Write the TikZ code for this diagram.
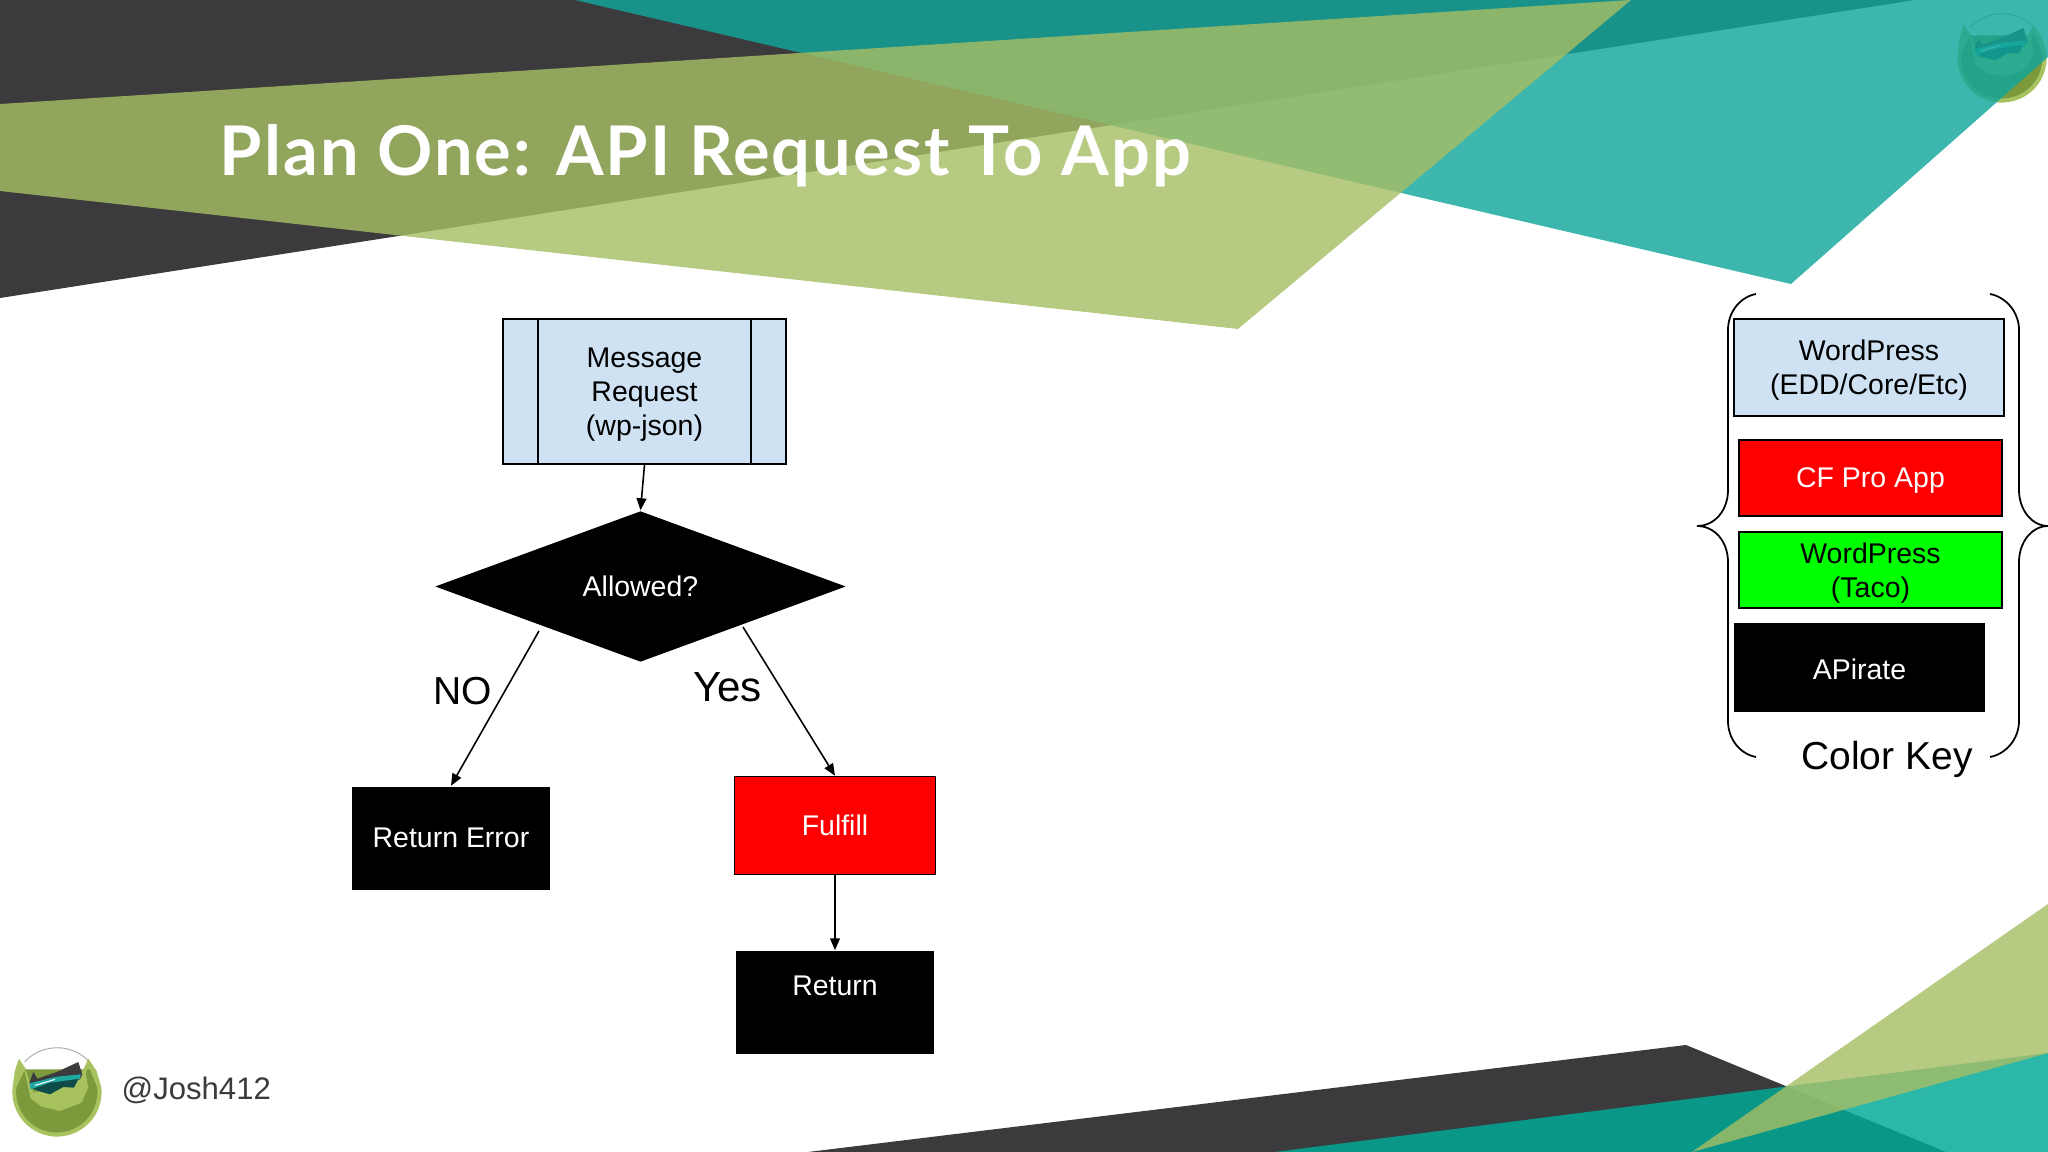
\documentclass[tikz,border=0pt]{standalone}
\usepackage{fontspec}
\setmainfont{Liberation Sans}
\newfontfamily\titlefont{Lato}[LetterSpace=3]
\usetikzlibrary{arrows.meta,shapes.geometric}
\definecolor{slate}{HTML}{3B3A3C}
\definecolor{olive}{HTML}{A5BE65}
\definecolor{teal1}{HTML}{12A69C}
\definecolor{teal2}{HTML}{00AA98}
\definecolor{paleblue}{HTML}{CFE2F3}
\definecolor{moss}{HTML}{7C9A3C}
\definecolor{leaf}{HTML}{A8C25F}
\definecolor{deepteal}{HTML}{0E4C4A}
\definecolor{river}{HTML}{1FA8A0}
\newcommand{\toppad}{\rule{0pt}{7.6pt}}
\newcommand{\onepad}{\rule{0pt}{7pt}}
\tikzset{
    boxtext/.style={font=\fontsize{8.1}{9.67}\selectfont,align=center,inner sep=0pt,line width=0.45pt},
    bluebox/.style={boxtext,draw=black,fill=paleblue,text=black},
    redbox/.style={boxtext,draw=black,fill=red,text=white},
    greenbox/.style={boxtext,draw=black,fill=green,text=black},
    blackbox/.style={boxtext,fill=black,text=white},
    biglabel/.style={font=\fontsize{11.1}{13}\selectfont,inner sep=0pt},
    flow/.style={-{Triangle[length=3.4pt,width=2.8pt]},line width=0.45pt},
    keybrace/.style={line width=0.5pt},
    pics/logo/.style={code={
        \begin{scope}[x=0.0333mm,y=-0.0333mm,shift={(-171,-218)}]
            \draw[gray!70,line width=0.25pt] (171,218) ++(-137:133) arc[start angle=-137,end angle=-45,radius=133];
            \fill[leaf] (57,118)--(45,152)--(37.7,204) arc[start angle=186,end angle=-6,radius=134]--(290,155)--(265,118)--(250,160)--(85,160)--cycle;
            \fill[moss] (49,205) arc[start angle=186,end angle=-6,radius=122]--(270,150)--(75,150)--cycle;
            \fill[leaf] (60,125)--(75,160)--(85,205)--(92,238)--(125,262)--(180,275)--(245,250)--(265,205)--(258,165)--(265,120)--(250,150)--(220,190)--(100,220)--(80,160)--cycle;
            \fill[slate] (88,190)--(100,158)--(112,178)--(170,158)--(235,128)--(247,165)--(240,180)--(100,205)--cycle;
            \fill[deepteal] (92,205)--(240,170)--(222,205)--(190,203)--(150,225)--(115,215)--cycle;
            \fill[river] (88,192)--(170,172)--(242,165)--(240,178)--(150,190)--(92,210)--cycle;
            \draw[white,line width=0.3pt] (105,198)--(165,180);
        \end{scope}
    }}
}
\begin{document}
\begin{tikzpicture}[x=1cm,y=-1cm]
    \useasboundingbox (0,0) rectangle (20.48,11.52);
    % logos (the upper one lies under the teal)
    \pic at (20.02,0.58) {logo};
    \pic at (0.57,10.92) {logo};
    % top shapes
    \fill[slate] (0,0)--(19.15,0)--(0,2.98)--cycle;
    \fill[teal1,fill opacity=.82] (5.75,0)--(17.91,2.84)--(20.48,0.57)--(20.48,0)--cycle;
    \fill[olive,fill opacity=.81] (0,1.04)--(16.31,0)--(12.38,3.29)--(0,1.91)--cycle;
    % bottom shapes
    \fill[slate] (8.08,11.52)--(16.86,10.45)--(19.46,11.52)--cycle;
    \fill[teal2,fill opacity=.83] (12.75,11.52)--(20.48,10.53)--(20.48,11.52)--cycle;
    \fill[olive,fill opacity=.81] (16.92,11.52)--(20.48,9.04)--(20.48,10.53)--cycle;
    % title
    \node[anchor=base west,inner sep=0pt,text=white,font=\titlefont\bfseries\fontsize{19.5}{22}\selectfont] (title) at (2.19,1.76) {Plan One: API Request To App};
    % flow
    \node[bluebox,minimum width=2.83cm,minimum height=1.45cm] (msg) at (6.445,3.915) {\toppad Message\\Request\\(wp-json)};
    \draw[line width=0.45pt] ([xshift=.36cm]msg.north west)--([xshift=.36cm]msg.south west);
    \draw[line width=0.45pt] ([xshift=-.36cm]msg.north east)--([xshift=-.36cm]msg.south east);
    \node[boxtext,shape=diamond,aspect=2.72,fill=black,text=white,minimum width=4.11cm,minimum height=1.51cm] (allowed) at (6.405,5.865) {Allowed?};
    \node[blackbox,minimum width=1.975cm,minimum height=1.03cm] (error) at (4.51,8.38) {Return Error};
    \node[redbox,minimum width=2.01cm,minimum height=0.98cm] (fulfill) at (8.35,8.255) {Fulfill};
    \node[blackbox,minimum width=1.98cm,minimum height=1.03cm] (return) at (8.35,10.025) {Return\\~};
    \coordinate (nostart) at (5.39,6.31);
    \coordinate (yesstart) at (7.43,6.27);
    \draw[flow] (msg.south)--(allowed.north);
    \draw[flow] (nostart)--(error.north);
    \draw[flow] (yesstart)--(fulfill.north);
    \draw[flow] (fulfill.south)--(return.north);
    \node[biglabel] (no) at (4.63,6.91) {NO};
    \node[biglabel,font=\fontsize{12}{14}\selectfont] (yes) at (7.275,6.875) {Yes};
    % color key
    \node[bluebox,minimum width=2.70cm,minimum height=0.97cm] (keywp) at (18.69,3.675) {\toppad WordPress\\(EDD/Core/Etc)};
    \node[redbox,minimum width=2.63cm,minimum height=0.76cm] (keycf) at (18.705,4.78) {\onepad CF Pro App};
    \node[greenbox,minimum width=2.63cm,minimum height=0.76cm] (keytaco) at (18.705,5.70) {\toppad WordPress\\(Taco)};
    \node[blackbox,minimum width=2.51cm,minimum height=0.89cm] (keyapi) at (18.595,6.675) {\onepad APirate};
    \node[biglabel,anchor=base] (keytitle) at (18.87,7.70) {Color Key};
    \draw[keybrace] (17.56,2.94) .. controls (17.40,2.97) and (17.28,3.12) .. (17.28,3.30)--(17.28,4.90)
        .. controls (17.28,5.10) and (17.15,5.26) .. (16.97,5.26)
        .. controls (17.15,5.26) and (17.28,5.42) .. (17.28,5.62)--(17.28,7.21)
        .. controls (17.28,7.39) and (17.40,7.54) .. (17.56,7.57);
    \draw[keybrace] (19.90,2.94) .. controls (20.06,2.97) and (20.19,3.12) .. (20.19,3.30)--(20.19,4.90)
        .. controls (20.19,5.10) and (20.32,5.26) .. (20.48,5.26)
        .. controls (20.32,5.26) and (20.19,5.42) .. (20.19,5.62)--(20.19,7.21)
        .. controls (20.19,7.39) and (20.06,7.54) .. (19.90,7.57);
    % handle
    \node[anchor=base west,inner sep=0pt,text=slate,font=\fontsize{8.85}{10}\selectfont] (handle) at (1.21,10.99) {@Josh412};
\end{tikzpicture}
\end{document}
